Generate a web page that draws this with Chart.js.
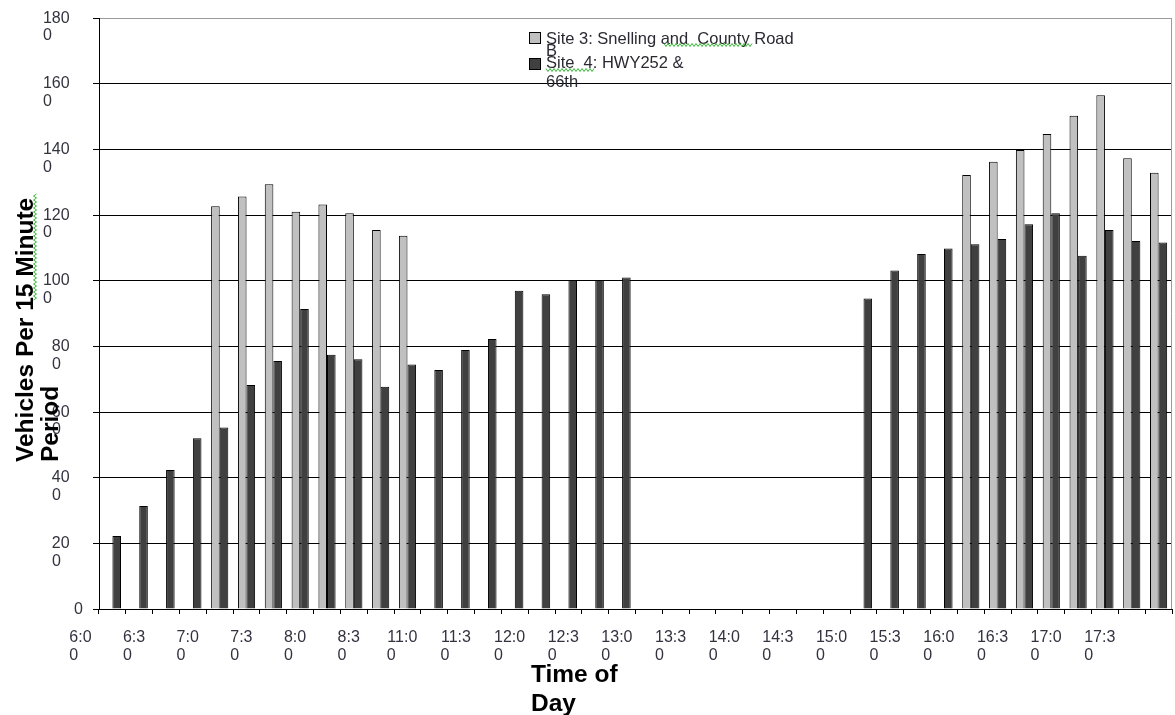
<!DOCTYPE html>
<html>
<head>
<meta charset="utf-8">
<script src="https://cdn.jsdelivr.net/npm/chart.js@4.4.1/dist/chart.umd.min.js"></script>
<style>
  html, body { margin: 0; padding: 0; background: #fff; }
  #wrap { width: 1175px; height: 715px; }
</style>
</head>
<body>
<div id="wrap"><canvas id="chart"></canvas></div>
<script>
// 15-minute slots; only every second slot carries a label on the axis
const categories = [
  '6:00', '', '6:30', '', '7:00', '', '7:30', '', '8:00', '', '8:30', '',
  '11:00', '', '11:30', '', '12:00', '', '12:30', '', '13:00', '', '13:30', '',
  '14:00', '', '14:30', '', '15:00', '', '15:30', '', '16:00', '', '16:30', '',
  '17:00', '', '17:30', ''
];
const site3 = [
  null, null, null, null, 1227, 1256, 1294, 1210, 1232, 1205, 1154, 1137,
  null, null, null, null, null, null, null, null, null, null, null, null,
  null, null, null, null, null, null, null, null, 1322, 1362, 1398, 1447,
  1502, 1565, 1373, 1329
];
const site4 = [
  222, 314, 423, 520, 553, 682, 755, 914, 774, 761, 677, 745,
  728, 789, 822, 969, 959, 1002, 1002, 1010, null, null, null, null,
  null, null, null, null, 946, 1031, 1081, 1098, 1111, 1127, 1172, 1205,
  1076, 1154, 1121, 1116
];
const yTicks = [0, 200, 400, 600, 800, 1000, 1200, 1400, 1600, 1800];
const seriesNames = ['Site 3: Snelling and  County Road B', 'Site  4: HWY252 & 66th'];
const legendLines = [['Site 3: Snelling and  County Road', 'B'], ['Site  4: HWY252 &', '66th']];
const xTitle = ['Time of', 'Day'];
const yTitle = ['Vehicles Per 15 Minute', 'Period'];

const FONT = '"Liberation Sans", Arial, sans-serif';
const colors = ['#c0c0c0', '#404040'];

// Excel wrapped the narrow labels: last character drops to a second line,
// left-aligned under the first. Pad with spaces (digit = 2 spaces wide).
const unitsOf = s => [...s].reduce((n, ch) => n + (ch === ':' ? 1 : 2), 0);
function wrapLabel(text, extra) {
  if (text.length < 2) return [text, ''];
  const head = text.slice(0, -1), tail = text.slice(-1);
  return [head + ' '.repeat(extra), tail + ' '.repeat(unitsOf(head) - unitsOf(tail) + extra)];
}

function squiggle(ctx, x0, y0, x1, y1) {
  const len = Math.hypot(x1 - x0, y1 - y0);
  const ux = (x1 - x0) / len, uy = (y1 - y0) / len;
  ctx.beginPath();
  for (let d = 0, k = 0; d <= len; d += 2, k++) {
    const off = (k % 2 ? 1.5 : -1.5);
    const px = x0 + ux * d - uy * off, py = y0 + uy * d + ux * off;
    if (k === 0) ctx.moveTo(px, py); else ctx.lineTo(px, py);
  }
  ctx.stroke();
}

const overlay = {
  id: 'overlay',
  afterDraw(chart) {
    const { ctx, chartArea: a } = chart;
    ctx.save();
    // right frame line
    ctx.strokeStyle = '#9a9a9a';
    ctx.lineWidth = 1;
    ctx.beginPath();
    ctx.moveTo(a.right - 0.5, a.top);
    ctx.lineTo(a.right - 0.5, a.bottom);
    ctx.stroke();

    // legend
    const boxes = [32, 58];
    const baselines = [[43.5, 56], [68, 87]];
    ctx.font = '16.5px ' + FONT;
    ctx.textAlign = 'left';
    ctx.textBaseline = 'alphabetic';
    legendLines.forEach((lines, i) => {
      ctx.fillStyle = colors[i];
      ctx.fillRect(529.5, boxes[i] + 0.5, 11, 11);
      ctx.strokeStyle = '#000';
      ctx.strokeRect(529.5, boxes[i] + 0.5, 11, 11);
      ctx.fillStyle = '#2a2a33';
      lines.forEach((t, j) => ctx.fillText(t, 546, baselines[i][j]));
    });

    // axis titles
    ctx.fillStyle = '#000';
    ctx.font = 'bold 24.5px ' + FONT;
    ctx.fillText(xTitle[0], 531, 682);
    ctx.fillText(xTitle[1], 531, 711);
    [[33, yTitle[0]], [58, yTitle[1]]].forEach(([x, t]) => {
      ctx.save();
      ctx.translate(x, 462);
      ctx.rotate(-Math.PI / 2);
      ctx.fillText(t, 0, 0);
      ctx.restore();
    });

    // spell-check squiggles
    ctx.strokeStyle = '#36b536';
    ctx.lineWidth = 1;
    squiggle(ctx, 664, 45, 752, 45);
    squiggle(ctx, 546, 70, 595, 70);
    squiggle(ctx, 35, 300, 35, 193);
    ctx.restore();
  }
};

function noOverflow(scale) {
  scale.paddingTop = 0;
  scale.paddingBottom = 0;
  scale.paddingLeft = 0;
  scale.paddingRight = 0;
}

new Chart(document.getElementById('chart'), {
  type: 'bar',
  data: {
    labels: categories,
    datasets: [
      { label: seriesNames[0], data: site3, backgroundColor: colors[0], borderColor: '#000', borderWidth: 1 },
      { label: seriesNames[1], data: site4, backgroundColor: colors[1], borderColor: '#000', borderWidth: 1 }
    ]
  },
  options: {
    responsive: true,
    maintainAspectRatio: false,
    animation: false,
    categoryPercentage: 0.64,
    barPercentage: 1.0,
    layout: { padding: { left: 0, top: 18, right: 3, bottom: 0 } },
    plugins: { legend: { display: false }, tooltip: { enabled: false } },
    scales: {
      x: {
        afterFit(scale) { noOverflow(scale); scale.height = 106; },
        grid: { drawOnChartArea: false, drawTicks: true, tickLength: 5, color: '#000' },
        border: { color: '#000', width: 1 },
        ticks: {
          autoSkip: false,
          maxRotation: 0,
          minRotation: 0,
          padding: 15,
          labelOffset: -32,
          color: '#333340',
          font: { family: FONT, size: 16, lineHeight: 1.1 },
          callback(value) {
            const t = this.getLabelForValue(value);
            return t ? wrapLabel(t, 0) : '';
          }
        }
      },
      y: {
        min: yTicks[0],
        max: yTicks[yTicks.length - 1],
        afterFit(scale) { noOverflow(scale); scale.width = 99; },
        afterBuildTicks(scale) { scale.ticks = yTicks.map(v => ({ value: v })); },
        grid: {
          color: ctx => (ctx.tick && ctx.tick.value === 1800 ? '#9a9a9a' : '#000'),
          tickColor: '#000',
          tickLength: 6,
          lineWidth: 1
        },
        border: { color: '#000', width: 1 },
        ticks: {
          padding: 10,
          labelOffset: 9,
          color: '#333340',
          font: { family: FONT, size: 16, lineHeight: 1.1 },
          callback: v => wrapLabel(String(v), 3)
        }
      }
    }
  },
  plugins: [overlay]
});
</script>
</body>
</html>
